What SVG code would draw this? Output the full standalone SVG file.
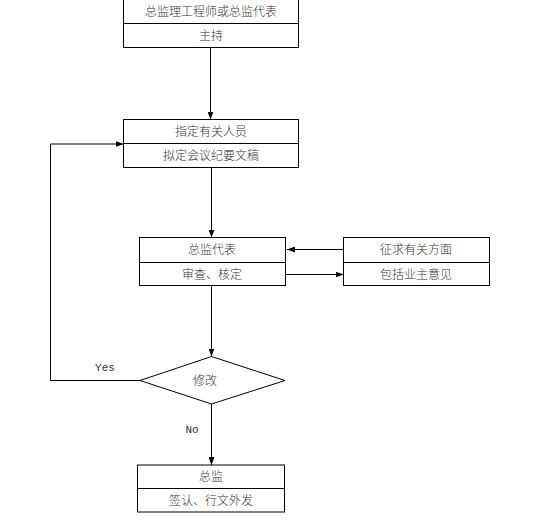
<svg xmlns="http://www.w3.org/2000/svg" width="556" height="522" viewBox="0 0 556 522">
<defs>
<marker id="ah" markerWidth="8" markerHeight="6" refX="8" refY="3" orient="auto" markerUnits="userSpaceOnUse">
<path d="M0,0 L8,3 L0,6 z" fill="#000"/>
</marker>
<style>
.box{fill:#fff;stroke:#000;stroke-width:1}
.ln{fill:none;stroke:#000;stroke-width:1}
.t{font-family:"Noto Sans CJK SC",sans-serif;font-size:12px;font-weight:300;fill:#333;text-anchor:middle}
.m{font-family:"Liberation Mono",monospace;font-size:11px;font-weight:normal;fill:#333;text-anchor:middle}
</style>
</defs>
<rect width="556" height="522" fill="#fff"/>
<g id="connectors">
<line class="ln" x1="210.5" y1="47.5" x2="210.5" y2="119.5" marker-end="url(#ah)"/>
<line class="ln" x1="211.5" y1="167.5" x2="211.5" y2="237.5" marker-end="url(#ah)"/>
<line class="ln" x1="343.5" y1="249.5" x2="287" y2="249.5" marker-end="url(#ah)"/>
<line class="ln" x1="286" y1="274.5" x2="343.5" y2="274.5" marker-end="url(#ah)"/>
<line class="ln" x1="211.5" y1="285.5" x2="211.5" y2="356.5" marker-end="url(#ah)"/>
<polyline class="ln" points="140,380.5 50.5,380.5 50.5,144 123.5,144" marker-end="url(#ah)"/>
<line class="ln" x1="211.5" y1="404" x2="211.5" y2="465" marker-end="url(#ah)"/>
<text class="m" x="105" y="371">Yes</text>
<text class="m" x="192" y="433">No</text>
</g>
<g id="node1">
<rect class="box" x="123.5" y="-0.5" width="175" height="48"/>
<line class="ln" x1="123.5" y1="23.5" x2="298.5" y2="23.5"/>
<text class="t" x="211" y="16">总监理工程师或总监代表</text>
<text class="t" x="211" y="40">主持</text>
</g>
<g id="node2">
<rect class="box" x="123.5" y="119.5" width="175" height="48"/>
<line class="ln" x1="123.5" y1="143.5" x2="298.5" y2="143.5"/>
<text class="t" x="211" y="135.5">指定有关人员</text>
<text class="t" x="211" y="160">拟定会议纪要文稿</text>
</g>
<g id="node3">
<rect class="box" x="139.5" y="237.5" width="146" height="48"/>
<line class="ln" x1="139.5" y1="262.5" x2="285.5" y2="262.5"/>
<text class="t" x="212" y="254">总监代表</text>
<text class="t" x="212" y="278.5">审查、核定</text>
</g>
<g id="node4">
<rect class="box" x="343.5" y="237.5" width="146" height="48"/>
<line class="ln" x1="343.5" y1="262.5" x2="489.5" y2="262.5"/>
<text class="t" x="416" y="254">征求有关方面</text>
<text class="t" x="416" y="278.5">包括业主意见</text>
</g>
<g id="node5">
<polygon class="box" points="211.5,356.5 285,380.5 211.5,404 140,380.5"/>
<text class="t" x="205" y="385">修改</text>
</g>
<g id="node6">
<rect class="box" x="137.5" y="465" width="147" height="47"/>
<line class="ln" x1="137.5" y1="488.5" x2="284.5" y2="488.5"/>
<text class="t" x="211" y="481">总监</text>
<text class="t" x="211" y="505">签认、行文外发</text>
</g>
</svg>
